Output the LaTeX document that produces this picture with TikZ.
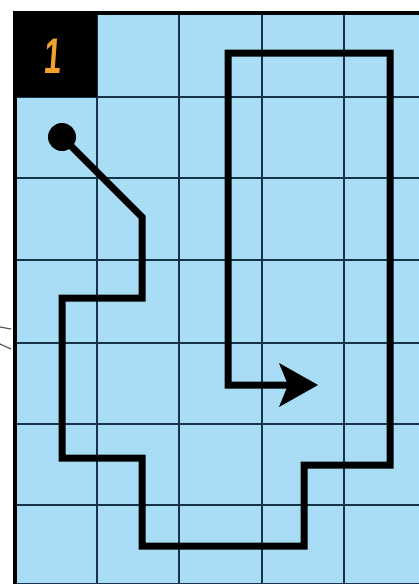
\documentclass[tikz,border=0pt]{standalone}
\usepackage{fontspec}
\newfontfamily\digitfont{Liberation Sans}
\definecolor{cellblue}{HTML}{A9DDF5}
\definecolor{gridline}{HTML}{16334A}
\definecolor{numorange}{HTML}{F2A22A}
\tikzset{
  gridstroke/.style={draw=gridline, line width=2.4pt},
  framestroke/.style={draw=black, line width=4.5pt},
  routestroke/.style={draw=black, line width=7pt, line join=miter, line cap=butt},
}
\begin{document}
\begin{tikzpicture}[x=1pt,y=-1pt]
\useasboundingbox (0,0) rectangle (419,584);
\fill[white] (0,0) rectangle (419,584);
% blue board
\fill[cellblue] (15,15) rectangle (419,584);
% grid lines
\foreach \gx in {97,179,262,344}
  \draw[gridstroke] (\gx,15) -- (\gx,584);
\foreach \gy in {97,178,260,343,424,505,584}
  \draw[gridstroke] (15,\gy) -- (419,\gy);
% black corner cell
\fill[black] (13,13) rectangle (97,97);
\node[text=numorange, font=\digitfont\bfseries\fontsize{50}{50}\selectfont, xscale=0.62, xslant=0.12] (num) at (53,56) {1};
% outer frame (top and left)
\draw[framestroke] (15,584) -- (15,13) -- (419,13);
% small marks in the margin
\draw[gray!70!black, line width=1.2pt] (0,327) -- (11,329);
\draw[gray!70!black, line width=1.2pt] (0,344) -- (11,349);
% route
\coordinate (start) at (62,137);
\coordinate (tip) at (318,385);
\draw[routestroke] (start) -- (142,217) -- (142,298) -- (62,298) -- (62,458)
  -- (142,458) -- (142,546) -- (304,546) -- (304,465) -- (390,465)
  -- (390,53) -- (228,53) -- (228,385) -- (288,385);
\fill[black] (start) circle (14);
\fill[black] (tip) -- (279,363) -- (288,385) -- (279,407) -- cycle;
\end{tikzpicture}
\end{document}
